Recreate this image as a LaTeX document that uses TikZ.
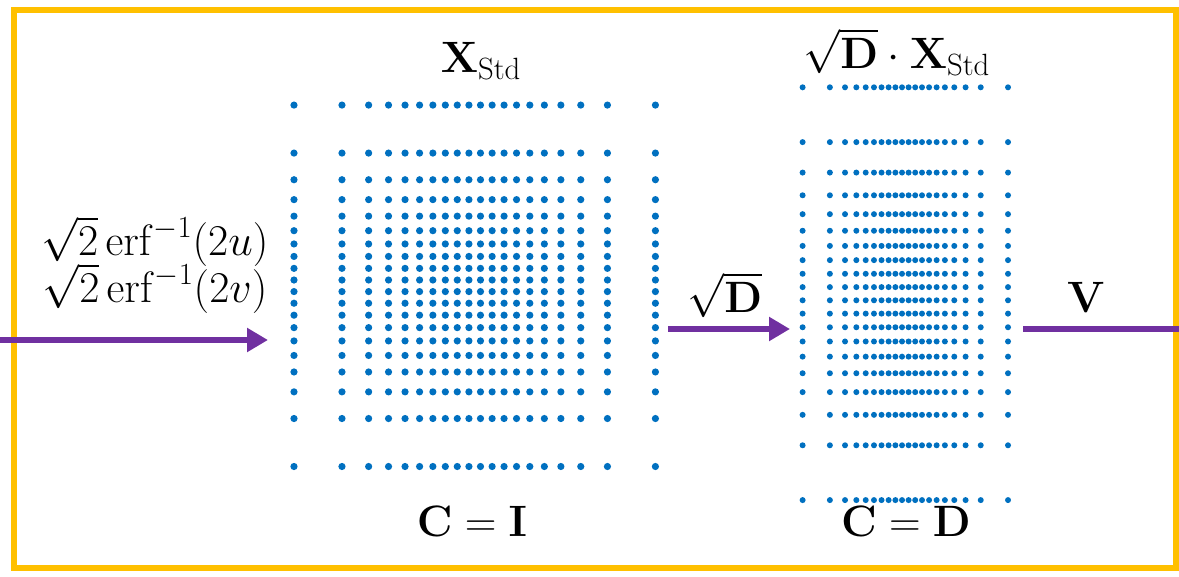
\RequirePackage{fix-cm}
\documentclass[tikz,border=0pt]{standalone}
\usepackage{amsmath}
\usepackage{xcolor}
\usepackage{tikz}
\usetikzlibrary{arrows.meta, positioning}

\definecolor{frameyellow}{HTML}{FFC000}
\definecolor{flowpurple}{HTML}{7030A0}
\definecolor{dotblue}{HTML}{0070C0}

% normal quantiles for u = (i-0.5)/20 - 0.5
\newcommand{\zlist}{-1.95996,-1.43953,-1.15035,-0.93459,-0.75542,-0.59776,-0.45376,-0.31864,-0.18912,-0.06271,
  0.06271,0.18912,0.31864,0.45376,0.59776,0.75542,0.93459,1.15035,1.43953,1.95996}

\begin{document}
\begin{tikzpicture}[
        x=0.02cm, y=-0.02cm,
        lbl/.style={anchor=base, inner sep=0pt, font=\fontsize{25}{30}\selectfont},
        dot/.style={fill=dotblue},
        flow/.style={line width=0.14cm, draw=flowpurple},
        arrow/.style={flow, -{Triangle[length=0.42cm, width=0.46cm]}}
        ]
        \useasboundingbox (0,0) rectangle (1179,577);

        % Frame
        \draw[frameyellow, line width=0.12cm] (14,10) rectangle (1176,568);

        % Standard grid: C = I
        \foreach \a in \zlist {
            \foreach \b in \zlist {
                \fill[dot] (474.7+92.2*\a, 285.8+92.2*\b) circle[radius=0.072cm];
            }
        }
        \node (xstd) [lbl] at (481,73) {$\mathbf{X}_{\mathrm{Std}}$};
        \node (ci) [lbl] at (472,536) {$\mathbf{C} = \mathbf{I}$};

        % Scaled grid: C = D
        \foreach \a in \zlist {
            \foreach \b in \zlist {
                \fill[dot] (905.3+52.4*\a, 293.7+105.3*\b) circle[radius=0.06cm];
            }
        }
        \node (dxstd) [lbl] at (897,69) {$\sqrt{\mathbf{D}}\cdot\mathbf{X}_{\mathrm{Std}}$};
        \node (cd) [lbl] at (906,536) {$\mathbf{C} = \mathbf{D}$};

        % Input transform
        \node (lblu) [lbl] at (155,256) {$\sqrt{2}\operatorname{erf}^{-1}(2u)$};
        \node (lblv) [lbl] at (155,303) {$\sqrt{2}\operatorname{erf}^{-1}(2v)$};
        \coordinate (in) at (0,340);
        \coordinate (grid1w) at (268,340);
        \draw [arrow] (in) -- (grid1w);

        % Scaling
        \node (sqrtd) [lbl] at (725,313) {$\sqrt{\mathbf{D}}$};
        \coordinate (grid1e) at (668,329);
        \coordinate (grid2w) at (790,329);
        \draw [arrow] (grid1e) -- (grid2w);

        % Rotation
        \node (rotv) [lbl] at (1086,313) {$\mathbf{V}$};
        \coordinate (grid2e) at (1023,329);
        \coordinate (out) at (1179,329);
        \draw [flow] (grid2e) -- (out);

    \end{tikzpicture}
\end{document}
